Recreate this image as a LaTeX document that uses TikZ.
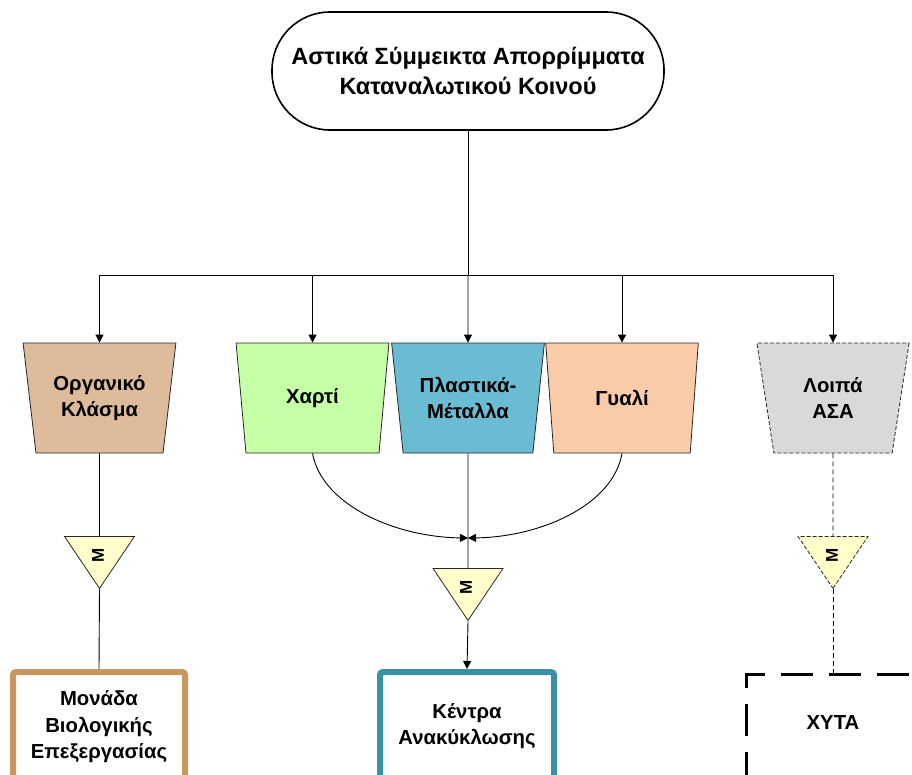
\documentclass[tikz,border=0pt]{standalone}
\usepackage{fontspec}
\setmainfont{Liberation Sans}
\newfontfamily\heavysans{Liberation Sans}[UprightFont={* Bold}]
\usetikzlibrary{arrows.meta,shapes.geometric}

\definecolor{organic}{HTML}{DEBB9B}
\definecolor{paper}{HTML}{C5FFA6}
\definecolor{plastic}{HTML}{69BCD2}
\definecolor{glass}{HTML}{F9CBA8}
\definecolor{rest}{HTML}{D9D9D9}
\definecolor{meter}{HTML}{FFFFCC}
\definecolor{bioedge}{HTML}{C8965E}
\definecolor{recedge}{HTML}{3A91A5}

\begin{document}
\begin{tikzpicture}[x=1pt,y=-1pt,
  lbl/.style={font=\heavysans\fontsize{20.3}{26.5}\selectfont, align=center, text=black},
  trap/.style={trapezium, trapezium angle=78.43, shape border rotate=180,
    trapezium stretches=true, minimum width=153pt, minimum height=110pt,
    draw=black!85, line width=0.8pt, inner sep=0pt, lbl},
  mtri/.style={isosceles triangle, shape border rotate=270,
    isosceles triangle stretches, minimum width=70pt, minimum height=52pt,
    draw=black!85, fill=meter, line width=0.8pt, inner sep=0pt, anchor=north},
  mlbl/.style={font=\heavysans\fontsize{17}{17}\selectfont, rotate=90, inner sep=0pt},
  plant/.style={draw, line width=6pt, rounded corners=3pt, fill=white, lbl},
  wire/.style={line width=0.9pt, draw=black},
  arr/.style={wire, -{Triangle[length=8pt,width=8pt]}},
  dwire/.style={line width=0.9pt, draw=black, dash pattern=on 5pt off 3pt}
]
\useasboundingbox (0,0) rectangle (912,774);

% source
\node[draw, line width=1.6pt, rounded corners=58pt, minimum width=392pt,
  minimum height=118pt, font=\heavysans\fontsize{23.5}{30}\selectfont, align=center]
  (src) at (468,71) {Αστικά Σύμμεικτα Απορρίμματα\\Καταναλωτικού Κοινού};

% fractions
\node[trap, fill=organic] (org) at (99.5,398) {Οργανικό\\Κλάσμα};
\node[trap, fill=paper] (pap) at (312.5,398) {Χαρτί};
\node[trap, fill=plastic] (pla) at (468,398) {Πλαστικά-\\Μέταλλα};
\node[trap, fill=glass] (gla) at (622,398) {Γυαλί};
\node[trap, fill=rest, dash pattern=on 4pt off 2pt] (oth) at (833,398) {Λοιπά\\ΑΣΑ};

% weighing points
\node[mtri] (m1) at (99.5,536) {};
\node[mtri] (m2) at (468,568) {};
\node[mtri, dash pattern=on 4pt off 2pt] (m3) at (833,536) {};
\node[mlbl] (ml1) at (98,555) {M};
\node[mlbl] (ml2) at (466,587) {M};
\node[mlbl] (ml3) at (832,555) {M};

% destinations
\node[plant, draw=bioedge, minimum width=172pt, minimum height=110pt]
  (bio) at (99,727) {Μονάδα\\Βιολογικής\\Επεξεργασίας};
\node[plant, draw=recedge, minimum width=174pt, minimum height=108pt]
  (rec) at (467,726) {Κέντρα\\Ανακύκλωσης};
\node[lbl] (lf) at (833,723) {ΧΥΤΑ};
\draw[line width=3pt, dash pattern=on 32pt off 16pt, dash phase=31.5pt]
  (746,800) -- (746,674.5) -- (930,674.5);
\coordinate (lftop) at (833,673);

% distribution
\coordinate (jn) at (468,275);
\coordinate (mg) at (468,538);
\draw[wire] (src.south) -- (jn);
\draw[arr] (jn) -| (org.north);
\draw[arr] (jn) -| (pap.north);
\draw[arr] (jn) -- (pla.north);
\draw[arr] (jn) -| (gla.north);
\draw[arr] (jn) -| (oth.north);

% organic line
\draw[wire] (org.south) -- (m1.north);
\draw[wire] (m1.south) -- (bio.north);

% recyclables line
\draw[wire] (pla.south) -- (m2.north);
\draw[arr] (pap.south) .. controls (322,505) and (395,537) .. (mg);
\draw[arr] (gla.south) .. controls (613,505) and (541,537) .. (mg);
\draw[arr] (m2.south) -- (rec.north);

% residual line
\draw[dwire] (oth.south) -- (m3.north);
\draw[dwire] (m3.south) -- (lftop);
\end{tikzpicture}
\end{document}
